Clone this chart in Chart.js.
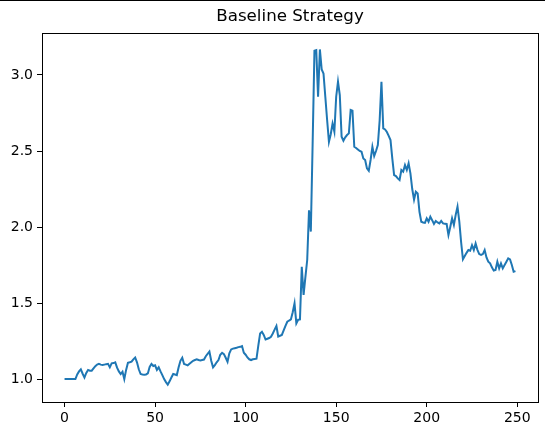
<!DOCTYPE html>
<html>
<head>
<meta charset="utf-8">
<script src="https://cdn.jsdelivr.net/npm/chart.js@4/dist/chart.umd.min.js"></script>
<style>
html,body{margin:0;padding:0;background:#fff;}
#wrap{width:547px;height:433px;position:relative;}
#topline{position:absolute;left:0;top:0;width:545px;height:0;border-top:1.5px solid #000;}
</style>
</head>
<body>
<div id="wrap"><div id="topline"></div><canvas id="c" width="547" height="433"></canvas></div>
<script>
const chartTitle = "Baseline Strategy";
const xTicks = [0, 50, 100, 150, 200, 250];
const yTicks = [1.0, 1.5, 2.0, 2.5, 3.0];
const values = [
 1.0,1.0,1.0,1.0,1.0,1.0,1.0,1.03,1.05,1.064,
 1.035,1.01,1.04,1.06,1.055,1.055,1.07,1.085,1.095,1.10,
 1.095,1.092,1.095,1.098,1.10,1.077,1.103,1.105,1.11,1.075,
 1.05,1.033,1.048,1.0,1.06,1.107,1.11,1.114,1.13,1.142,
 1.11,1.064,1.033,1.03,1.028,1.03,1.037,1.08,1.10,1.086,
 1.09,1.06,1.077,1.05,1.026,1.0,0.98,0.963,0.985,1.01,
 1.033,1.03,1.026,1.077,1.12,1.14,1.099,1.095,1.09,1.10,
 1.11,1.12,1.125,1.13,1.125,1.122,1.125,1.128,1.15,1.165,
 1.18,1.12,1.077,1.092,1.11,1.125,1.16,1.173,1.164,1.14,
 1.114,1.17,1.195,1.20,1.203,1.206,1.21,1.212,1.217,1.173,
 1.16,1.142,1.13,1.125,1.13,1.132,1.134,1.22,1.30,1.311,
 1.29,1.26,1.265,1.27,1.278,1.30,1.325,1.349,1.28,1.285,
 1.29,1.32,1.35,1.377,1.385,1.392,1.44,1.498,1.366,1.39,
 1.392,1.739,1.553,1.67,1.783,2.11,1.97,2.55,3.16,3.164,
 2.857,3.168,3.037,3.01,2.857,2.704,2.56,2.61,2.68,2.627,
 2.857,2.956,2.868,2.594,2.568,2.59,2.605,2.616,2.77,2.765,
 2.528,2.52,2.51,2.50,2.495,2.451,2.441,2.386,2.37,2.441,
 2.528,2.467,2.50,2.539,2.70,2.956,2.649,2.642,2.625,2.60,
 2.572,2.45,2.342,2.335,2.32,2.309,2.375,2.364,2.408,2.375,
 2.419,2.353,2.25,2.18,2.232,2.221,2.10,2.035,2.03,2.028,
 2.057,2.035,2.068,2.045,2.02,2.04,2.03,2.024,2.04,2.024,
 2.022,2.02,1.947,2.00,2.057,2.013,2.08,2.134,2.035,1.90,
 1.788,1.809,1.83,1.849,1.844,1.88,1.849,1.892,1.85,1.822,
 1.816,1.822,1.849,1.80,1.772,1.761,1.735,1.713,1.717,1.772,
 1.728,1.761,1.728,1.75,1.772,1.794,1.787,1.75,1.706,1.71
];
const points = values.map((v, i) => ({x: i, y: v}));

const frame = {
  id: 'frame',
  afterDraw(chart) {
    const a = chart.chartArea, ctx = chart.ctx;
    ctx.save();
    ctx.strokeStyle = '#000';
    ctx.lineWidth = 1;
    ctx.strokeRect(Math.round(a.left) + 0.5, Math.round(a.top) + 0.5,
                   Math.round(a.right - a.left), Math.round(a.bottom - a.top));
    ctx.restore();
  }
};

new Chart(document.getElementById('c'), {
  type: 'line',
  data: {
    datasets: [{
      data: points,
      borderColor: '#1f77b4',
      borderWidth: 2,
      pointRadius: 0,
      tension: 0,
      fill: false
    }]
  },
  options: {
    responsive: false,
    animation: false,
    layout: {padding: {left: 0, right: 9, top: 0, bottom: 0}},
    plugins: {
      legend: {display: false},
      tooltip: {enabled: false},
      title: {
        display: true,
        text: chartTitle,
        fullSize: false,
        color: '#000',
        font: {family: 'DejaVu Sans', size: 16.7, weight: 'normal'},
        padding: {top: 7, bottom: 6}
      }
    },
    scales: {
      x: {
        type: 'linear',
        min: -12.45,
        max: 261.45,
        afterBuildTicks: s => { s.ticks = xTicks.map(v => ({value: v})); },
        afterFit: s => { s.height = 31; },
        grid: {display: true, drawOnChartArea: false, drawTicks: true, tickLength: 5, color: '#000'},
        border: {display: true, color: '#000'},
        ticks: {
          color: '#000',
          padding: 3,
          maxRotation: 0,
          font: {family: 'DejaVu Sans', size: 14},
          callback: v => String(v)
        }
      },
      y: {
        type: 'linear',
        min: 0.849,
        max: 3.276,
        afterBuildTicks: s => { s.ticks = yTicks.map(v => ({value: v})); },
        afterFit: s => { s.width = 42; },
        grid: {display: true, drawOnChartArea: false, drawTicks: true, tickLength: 5, color: '#000'},
        border: {display: true, color: '#000'},
        ticks: {
          color: '#000',
          padding: 4,
          font: {family: 'DejaVu Sans', size: 14},
          callback: v => Number(v).toFixed(1)
        }
      }
    }
  },
  plugins: [frame]
});
</script>
</body>
</html>
